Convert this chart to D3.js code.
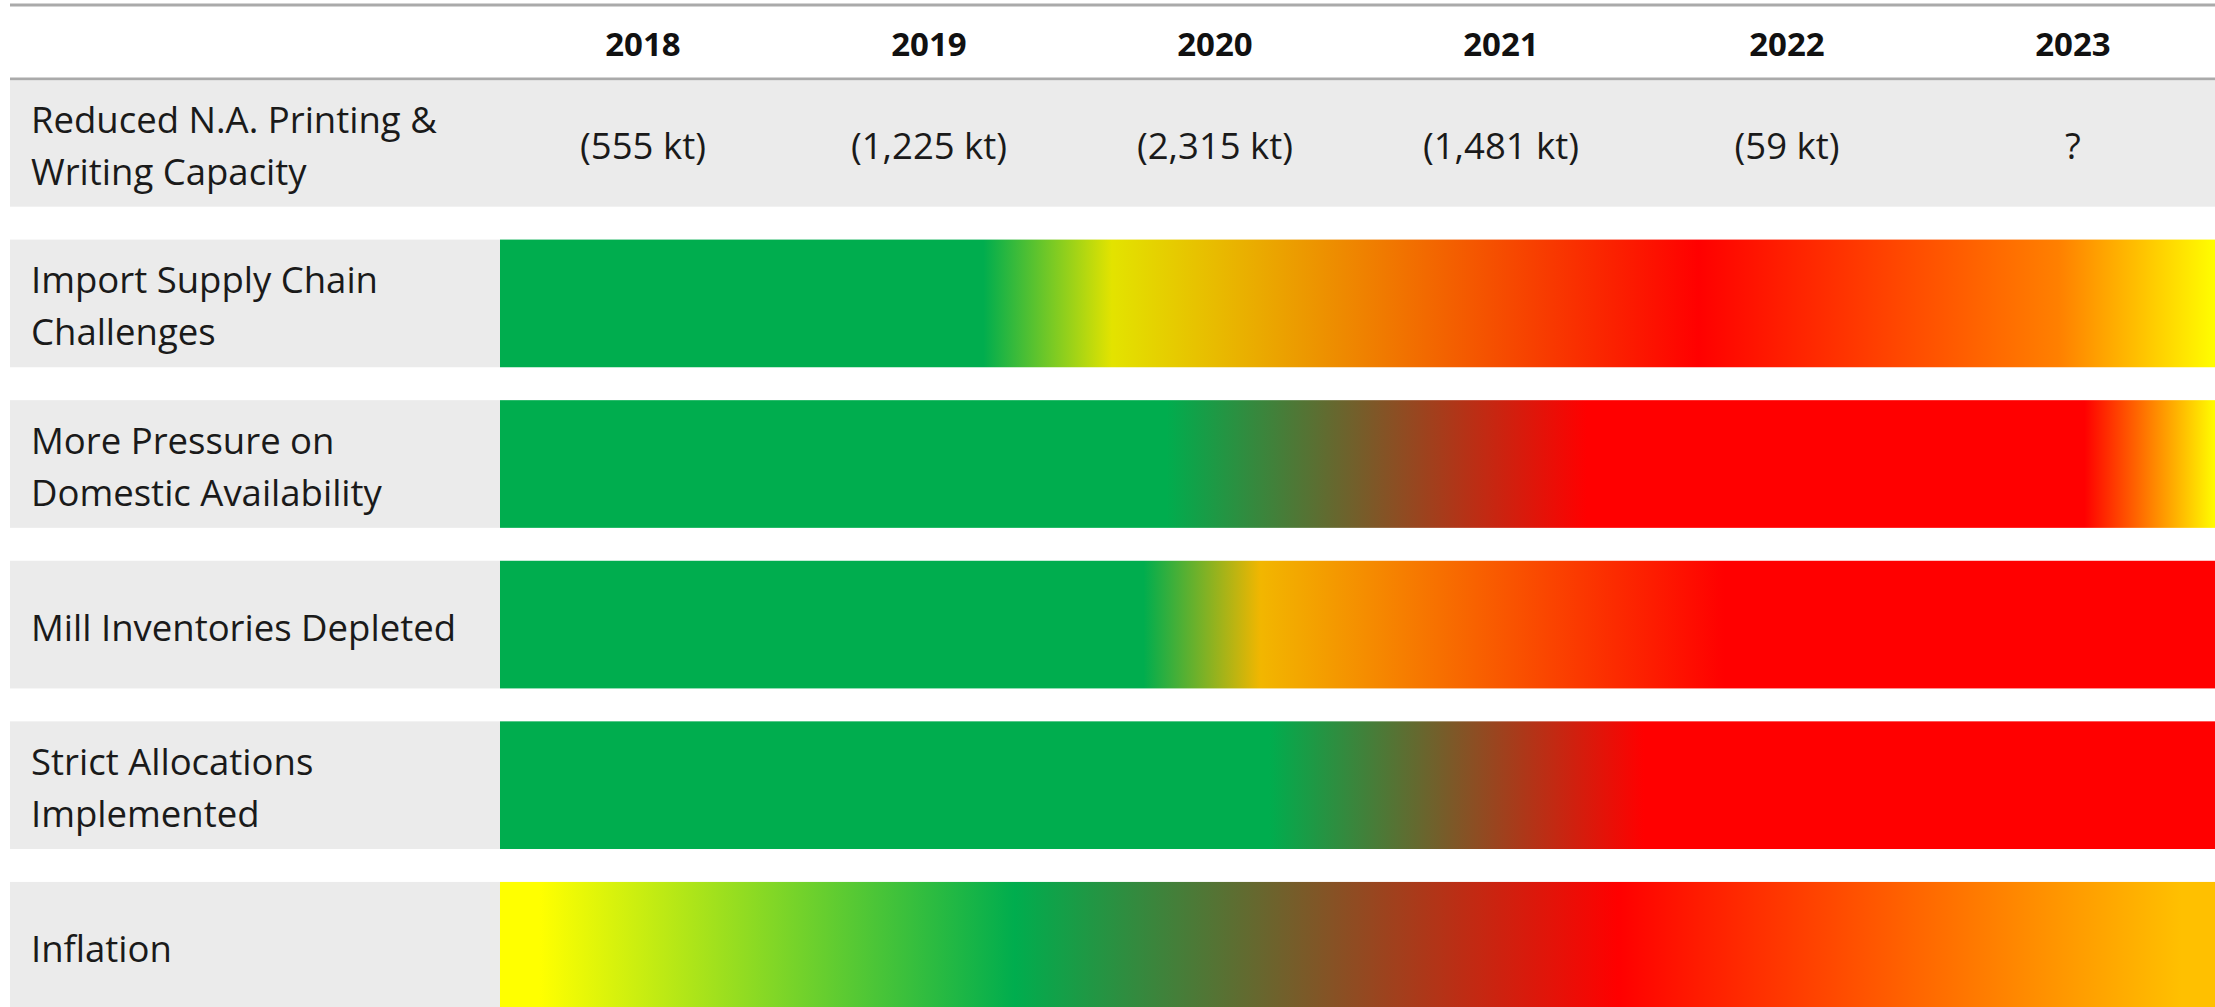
<!DOCTYPE html>
<html>
<head>
<meta charset="utf-8">
<script src="https://cdn.jsdelivr.net/npm/d3@7"></script>
<style>
  html, body { margin: 0; padding: 0; background: #ffffff; }
  svg { display: block; }
</style>
</head>
<body>
<svg id="chart" width="2215" height="1007"></svg>
<script>
// ---------------- DATA ----------------
const years = ["2018", "2019", "2020", "2021", "2022", "2023"];
const timeDomain = [2018, 2024];

const capacityLabel = ["Reduced N.A. Printing &", "Writing Capacity"];
const capacityValues = ["(555 kt)", "(1,225 kt)", "(2,315 kt)", "(1,481 kt)", "(59 kt)", "?"];

const factorNames = [
  ["Import Supply Chain", "Challenges"],
  ["More Pressure on", "Domestic Availability"],
  ["Mill Inventories Depleted"],
  ["Strict Allocations", "Implemented"],
  ["Inflation"]
];

// status over time: [fractional year, status key]
const importStops = [[2018, "good"], [2019.69, "good"], [2020.14, "caution"], [2022.19, "severe"], [2023.45, "elevated"], [2024, "warning"]];
const pressureStops = [[2018, "good"], [2020.33, "good"], [2021.80, "severe"], [2023.54, "severe"], [2024, "warning"]];
const inventoryStops = [[2018, "good"], [2020.25, "good"], [2020.66, "watch"], [2022.28, "severe"], [2024, "severe"]];
const allocationStops = [[2018, "good"], [2020.69, "good"], [2022.00, "severe"], [2024, "severe"]];
const inflationStops = [[2018, "warning"], [2018.14, "warning"], [2019.80, "good"], [2021.91, "severe"], [2023.88, "amber"], [2024, "amber"]];

const factorStops = [importStops, pressureStops, inventoryStops, allocationStops, inflationStops];

// ---------------- STYLE ----------------
const statusColor = {
  good: "#00AD4E",
  caution: "#E3E300",
  warning: "#FFFF00",
  watch: "#F2B600",
  elevated: "#FF8000",
  amber: "#FFC000",
  severe: "#FF0000"
};
const FONT = "'Open Sans', 'Noto Sans', sans-serif";
const textColor = "#1a1a1a";
const rowFill = "#EBEBEB";
const ruleColor = "#AAAAAA";

// ---------------- LAYOUT ----------------
const svg = d3.select("#chart");
const W = 2215;
const tableLeft = 10;
const barLeft = 500;
const barRight = 2216;
const headerTop = 5;
const headerBottom = 79;

const x = d3.scaleBand().domain(years).range([barLeft, barRight]).padding(0);
const t = d3.scaleLinear().domain(timeDomain).range([barLeft, barRight]);

const rowKeys = ["capacity"].concat(factorNames.map((d, i) => "f" + i));
const y = d3.scaleBand().domain(rowKeys).range([headerBottom, 1009.6]).paddingInner(0.205).paddingOuter(0);

// header rules
svg.append("g").selectAll("line")
  .data([headerTop, headerBottom])
  .join("line")
  .attr("x1", tableLeft).attr("x2", W)
  .attr("y1", d => d).attr("y2", d => d)
  .attr("stroke", ruleColor).attr("stroke-width", 3);

// year header
svg.append("g").selectAll("text")
  .data(years)
  .join("text")
  .attr("x", d => x(d) + x.bandwidth() / 2)
  .attr("y", (headerTop + headerBottom) / 2 + 1)
  .attr("text-anchor", "middle")
  .attr("dominant-baseline", "central")
  .attr("font-family", FONT)
  .attr("font-weight", 700)
  .attr("font-size", 33)
  .attr("fill", "#111")
  .text(d => d);

// capacity row
const capY = y("capacity");
svg.append("rect")
  .attr("x", tableLeft).attr("y", capY + 1.5)
  .attr("width", W - tableLeft).attr("height", y.bandwidth() - 1.5)
  .attr("fill", rowFill);

const lineGap = 52;
function labelLines(g, lines, cy) {
  const n = lines.length;
  g.selectAll("text.lbl")
    .data(lines)
    .join("text")
    .attr("class", "lbl")
    .attr("x", 31)
    .attr("y", (d, i) => cy + (i - (n - 1) / 2) * lineGap)
    .attr("dominant-baseline", "central")
    .attr("font-family", FONT)
    .attr("font-size", 36.5)
    .attr("fill", textColor)
    .text(d => d);
}

labelLines(svg.append("g"), capacityLabel, capY + y.bandwidth() / 2 + 2);

svg.append("g").selectAll("text")
  .data(years.map((yr, i) => ({ yr, v: capacityValues[i] })))
  .join("text")
  .attr("x", d => x(d.yr) + x.bandwidth() / 2)
  .attr("y", capY + y.bandwidth() / 2 + 2)
  .attr("text-anchor", "middle")
  .attr("dominant-baseline", "central")
  .attr("font-family", FONT)
  .attr("font-size", 36.5)
  .attr("fill", textColor)
  .text(d => d.v);

// gradients
const defs = svg.append("defs");
factorStops.forEach((stops, i) => {
  const grad = defs.append("linearGradient")
    .attr("id", "grad" + i)
    .attr("gradientUnits", "userSpaceOnUse")
    .attr("x1", t(timeDomain[0])).attr("x2", t(timeDomain[1]))
    .attr("y1", 0).attr("y2", 0);
  grad.selectAll("stop")
    .data(stops)
    .join("stop")
    .attr("offset", d => (t(d[0]) - t(timeDomain[0])) / (t(timeDomain[1]) - t(timeDomain[0])))
    .attr("stop-color", d => statusColor[d[1]]);
});

// factor rows
factorNames.forEach((lines, i) => {
  const key = "f" + i;
  const top = y(key);
  const g = svg.append("g");
  g.append("rect")
    .attr("x", tableLeft).attr("y", top)
    .attr("width", barLeft - tableLeft).attr("height", y.bandwidth())
    .attr("fill", rowFill);
  g.append("rect")
    .attr("x", t(timeDomain[0])).attr("y", top)
    .attr("width", t(timeDomain[1]) - t(timeDomain[0])).attr("height", y.bandwidth())
    .attr("fill", "url(#grad" + i + ")");
  labelLines(g, lines, top + y.bandwidth() / 2 + 2);
});
</script>
</body>
</html>
